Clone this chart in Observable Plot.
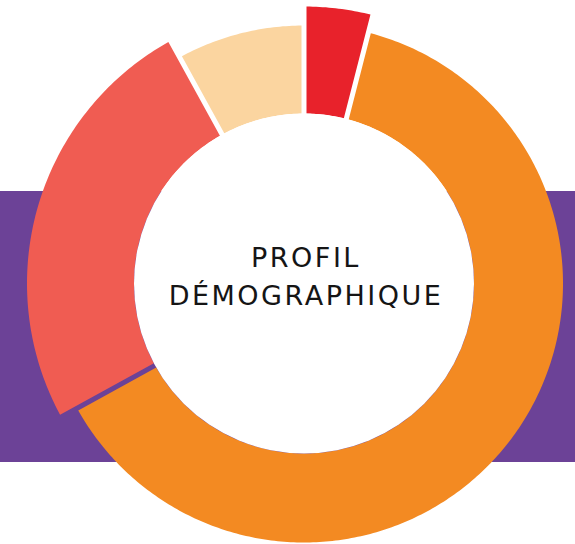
<!DOCTYPE html>
<html><head><meta charset="utf-8">
<script src="https://cdn.jsdelivr.net/npm/d3@7"></script>
<script src="https://cdn.jsdelivr.net/npm/@observablehq/plot@0.6"></script>
<style>
html,body{margin:0;padding:0;background:#fff;overflow:hidden}
#chart{position:relative;width:575px;height:544px;
  background:linear-gradient(to bottom, transparent 191px, #6C4297 191px, #6C4297 462px, transparent 462px);}
#chart svg{display:block}
</style></head><body><div id="chart"></div>
<script>
// ---- data ----
const categories = ["Groupe 1", "Groupe 2", "Groupe 3", "Groupe 4"];
const shares = [4, 63, 25, 8];
const centerLines = ["PROFIL", "DÉMOGRAPHIQUE"];

// ---- style / layout ----
const colors = ["#E8222B", "#F38A22", "#F05C52", "#FBD5A0"];
const outerRadii = [277, 259, 277, 258];
const W = 575, H = 544, cx = 303.5, cy = 283;
const innerR = 170, gap = 5;

// build segment polygons (clockwise from top)
const total = d3.sum(shares);
const rows = [];
let cum = 0;
categories.forEach((c, i) => {
  const a0 = cum / total * 2 * Math.PI;
  cum += shares[i];
  const a1 = cum / total * 2 * Math.PI;
  const ro = outerRadii[i], ri = innerR;
  const po = Math.asin(gap / 2 / ro), pi = Math.asin(gap / 2 / ri);
  const n = Math.max(8, Math.round((a1 - a0) * 80));
  for (let k = 0; k <= n; k++) {
    const t = (a0 + po) + ((a1 - po) - (a0 + po)) * k / n;
    rows.push({category: c, x: ro * Math.sin(t), y: ro * Math.cos(t)});
  }
  for (let k = 0; k <= n; k++) {
    const t = (a1 - pi) + ((a0 + pi) - (a1 - pi)) * k / n;
    rows.push({category: c, x: ri * Math.sin(t), y: ri * Math.cos(t)});
  }
});

const chart = Plot.plot({
  width: W, height: H,
  margin: 0,
  x: {domain: [-cx, W - cx], axis: null},
  y: {domain: [cy - H, cy], axis: null},
  color: {domain: categories, range: colors},
  style: {background: "transparent", letterSpacing: "2.5px"},
  marks: [
    Plot.line(rows, {x: "x", y: "y", z: "category", fill: "category", stroke: "none", curve: "linear-closed"}),
    Plot.dot([0], {x: 0, y: 0, r: innerR, fill: "white", stroke: "none"}),
    Plot.text([centerLines.join("\n")], {x: 0, y: 0, text: d => d, fontSize: 27, fontFamily: "DejaVu Sans", lineHeight: 38 / 27, dy: -10, dx: 2, fill: "#151515", textAnchor: "middle", lineAnchor: "middle"})
  ]
});
document.getElementById("chart").appendChild(chart);
</script></body></html>
